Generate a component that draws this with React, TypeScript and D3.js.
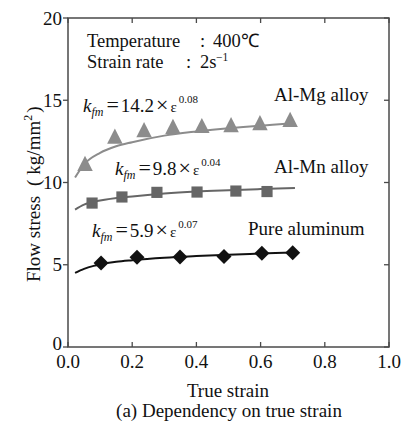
import React from "react";
import * as d3 from "d3";

// ---- data ----
const xTicks = [0, 0.2, 0.4, 0.6, 0.8, 1.0];
const yTicks = [0, 5, 10, 15, 20];

const mgStrain = [0.053, 0.146, 0.237, 0.327, 0.417, 0.508, 0.598, 0.692];
const mgStress = [10.95, 12.6, 13.0, 13.2, 13.25, 13.3, 13.43, 13.62];
const mnStrain = [0.075, 0.168, 0.277, 0.402, 0.523, 0.62];
const mnStress = [8.75, 9.12, 9.4, 9.42, 9.48, 9.45];
const alStrain = [0.103, 0.215, 0.349, 0.486, 0.604, 0.7];
const alStress = [5.1, 5.45, 5.47, 5.5, 5.7, 5.73];

// fitted curves
const mgCurveX = [0.022, 0.05, 0.1, 0.15, 0.2, 0.3, 0.4, 0.5, 0.6, 0.7];
const mgCurveY = [10.3, 11.1, 11.8, 12.2, 12.45, 12.85, 13.1, 13.3, 13.45, 13.6];
const mnCurveX = [0.022, 0.05, 0.1, 0.2, 0.3, 0.4, 0.5, 0.6, 0.707];
const mnCurveY = [8.35, 8.65, 8.9, 9.15, 9.33, 9.45, 9.53, 9.6, 9.67];
const alCurveX = [0.022, 0.05, 0.08, 0.1, 0.15, 0.2, 0.3, 0.4, 0.5, 0.6, 0.7];
const alCurveY = [4.5, 4.75, 4.93, 5.02, 5.18, 5.28, 5.43, 5.53, 5.61, 5.68, 5.75];

const W = 405;
const H = 422;
const left = 68, right = 389, top = 18, bottom = 347;
const FAM = "Liberation Serif";

function T(props: any) {
  const { children, ...rest } = props;
  return (
    <text fill="#111" fontFamily={FAM} {...rest} style={{ fontFamily: FAM }}>
      {children}
    </text>
  );
}

export default function App() {
  const x = d3.scaleLinear().domain([0, 1]).range([left, right]);
  const y = d3.scaleLinear().domain([0, 20]).range([bottom, top]);
  const line = d3
    .line<[number, number]>()
    .x((d) => x(d[0]))
    .y((d) => y(d[1]))
    .curve(d3.curveMonotoneX);
  const zip = (a: number[], b: number[]) => a.map((v, i) => [v, b[i]] as [number, number]);

  const tri = d3.symbol().type(d3.symbolTriangle).size(110)() as string;
  const sq = d3.symbol().type(d3.symbolSquare).size(125)() as string;
  const dia = d3.symbol().type(d3.symbolSquare).size(112)() as string;

  const axisColor = "#4a4a4a";
  const tk = 5;

  return (
    <svg width={W} height={H} style={{ position: "absolute", left: 0, top: 0, background: "#fff" }}>
      <style>{`text, tspan { font-family: 'Liberation Serif', serif !important; }`}</style>
      {/* curves */}
      <path d={line(zip(mgCurveX, mgCurveY)) as string} fill="none" stroke="#8c8c8c" strokeWidth={2} />
      <path d={line(zip(mnCurveX, mnCurveY)) as string} fill="none" stroke="#666" strokeWidth={2} />
      <path d={line(zip(alCurveX, alCurveY)) as string} fill="none" stroke="#111" strokeWidth={2} />

      {/* markers */}
      {mgStrain.map((s, i) => (
        <path key={"mg" + i} d={tri} transform={`translate(${x(s)},${y(mgStress[i]) - 1}) scale(0.97,1.1)`} fill="#8c8c8c" />
      ))}
      {mnStrain.map((s, i) => (
        <path key={"mn" + i} d={sq} transform={`translate(${x(s)},${y(mnStress[i])})`} fill="#666" />
      ))}
      {alStrain.map((s, i) => (
        <path key={"al" + i} d={dia} transform={`translate(${x(s)},${y(alStress[i])}) rotate(45)`} fill="#111" />
      ))}

      {/* frame */}
      <rect x={left} y={top} width={right - left} height={bottom - top} fill="none" stroke={axisColor} strokeWidth={1.5} />
      {xTicks.map((t) => (
        <g key={"xt" + t}>
          <line x1={x(t)} x2={x(t)} y1={bottom} y2={bottom - tk} stroke={axisColor} strokeWidth={1.3} />
          <line x1={x(t)} x2={x(t)} y1={top} y2={top + tk} stroke={axisColor} strokeWidth={1.3} />
          <T x={x(t)} y={368} fontSize={19} textAnchor="middle">
            {t.toFixed(1)}
          </T>
        </g>
      ))}
      {yTicks.map((t) => (
        <g key={"yt" + t}>
          <line x1={left - tk} x2={left} y1={y(t)} y2={y(t)} stroke={axisColor} strokeWidth={1.3} />
          <line x1={right} x2={right - tk} y1={y(t)} y2={y(t)} stroke={axisColor} strokeWidth={1.3} />
          <T x={62} y={t === 0 ? y(t) + 3 : y(t) + 6.5} fontSize={19} textAnchor="end">
            {t}
          </T>
        </g>
      ))}

      {/* axis titles */}
      <T x={228} y={397} fontSize={19} textAnchor="middle">True strain</T>
      <T x={229} y={417} fontSize={19} textAnchor="middle">(a) Dependency on true strain</T>
      <T transform="translate(40,282) rotate(-90)" fontSize={19}>
        <tspan>Flow stress</tspan>
        <tspan dx={10}>(</tspan>
        <tspan dx={5}>kg/mm</tspan>
        <tspan dy={-8} fontSize={12}>2</tspan>
        <tspan dy={8} dx={2}>)</tspan>
      </T>

      {/* conditions */}
      <T x={87} y={47} fontSize={18.5}>Temperature</T>
      <T x={200} y={47} fontSize={18.5}>:</T>
      <T x={213} y={47} fontSize={18.5}>400℃</T>
      <T x={87} y={68} fontSize={18.5}>Strain rate</T>
      <T x={186} y={68} fontSize={18.5}>:</T>
      <T x={200} y={68} fontSize={18.5}>2s</T>
      <T x={216} y={61} fontSize={11.5}>−1</T>

      {/* series labels */}
      <T x={274} y={101} fontSize={19}>Al-Mg alloy</T>
      <T x={274} y={173} fontSize={19}>Al-Mn alloy</T>
      <T x={248} y={235} fontSize={19}>Pure aluminum</T>

      {/* formulas */}
      {[
        { x0: 83, y0: 112, c: "14.2", e: "0.08" },
        { x0: 115, y0: 175, c: "9.8", e: "0.04" },
        { x0: 92, y0: 237, c: "5.9", e: "0.07" },
      ].map((f, i) => (
        <T key={"f" + i} x={f.x0} y={f.y0} fontSize={19}>
          <tspan fontStyle="italic">k</tspan>
          <tspan fontStyle="italic" fontSize={12} dy={4}>fm</tspan>
          <tspan dy={-4} dx={3} fontSize={22}>=</tspan>
          <tspan dx={2}>{f.c}</tspan>
          <tspan dx={2} fontSize={22}>×</tspan>
          <tspan dx={2} fontSize={15}>ε</tspan>
          <tspan dx={2} dy={-9} fontSize={11}>{f.e}</tspan>
        </T>
      ))}
    </svg>
  );
}
